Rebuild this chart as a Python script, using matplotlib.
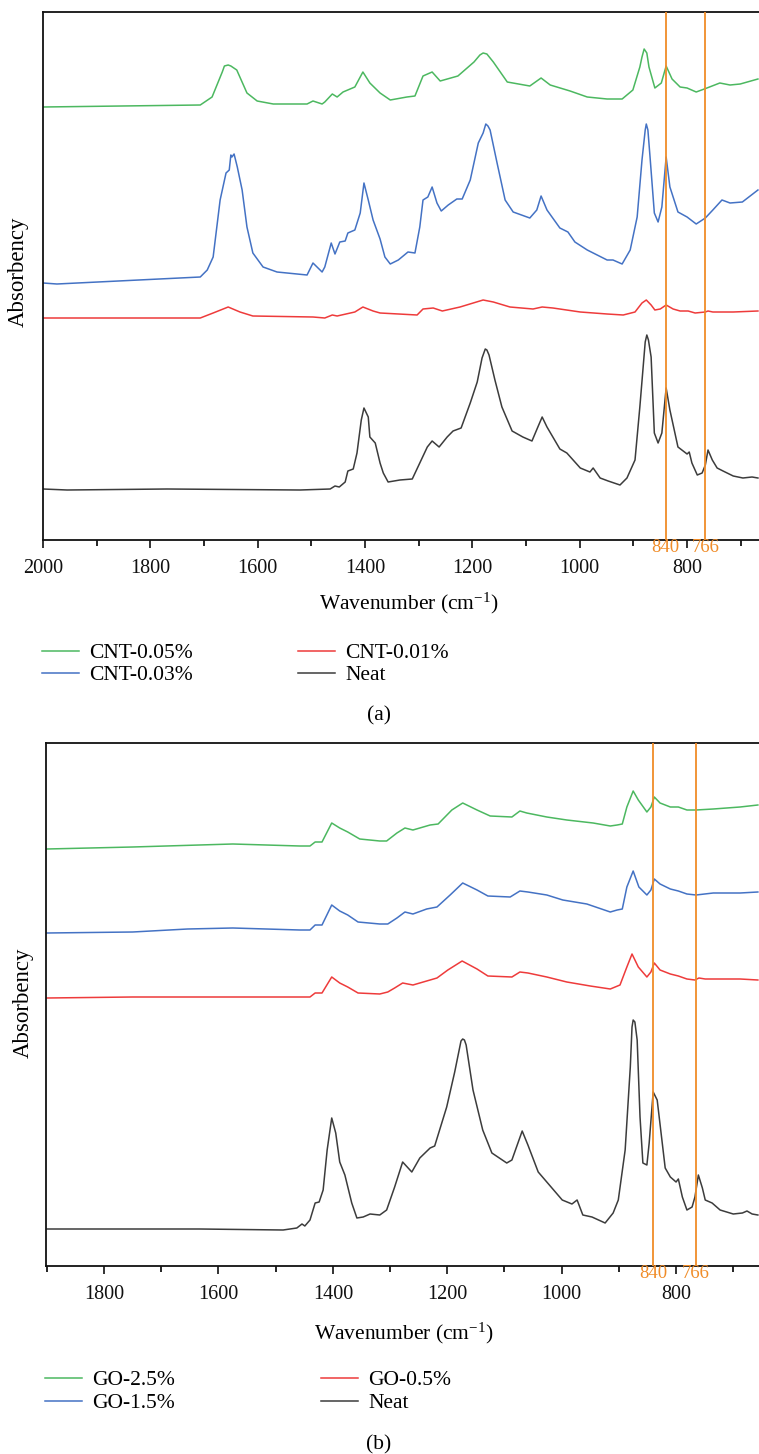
import matplotlib
matplotlib.use('Agg')
import matplotlib.pyplot as plt
from matplotlib.ticker import MultipleLocator
import matplotlib.transforms as mtransforms

plt.rcParams['font.family'] = ['Liberation Serif', 'DejaVu Serif']
plt.rcParams['mathtext.fontset'] = 'custom'
plt.rcParams['mathtext.rm'] = 'Liberation Serif'
plt.rcParams['mathtext.it'] = 'Liberation Serif:italic'
plt.rcParams['mathtext.bf'] = 'Liberation Serif:bold'

# ---------------- Panel (a): CNT samples (absorbance, stacked, a.u.) ----------------
cnt005_wn = [2000, 1707, 1685, 1666, 1662, 1655, 1650, 1639, 1620, 1601, 1571, 1508, 1497, 1480,
             1475, 1461, 1452, 1441, 1419, 1404, 1391, 1372, 1353, 1322, 1307, 1292, 1275, 1260,
             1227, 1197, 1186, 1180, 1173, 1161, 1135, 1093, 1072, 1055, 1018, 986, 949, 921, 901,
             888, 884, 880, 875, 871, 860, 848, 839, 828, 813, 800, 783, 763, 739, 720, 701, 668]
cnt005_abs = [4.33, 4.35, 4.43, 4.68, 4.74, 4.75, 4.74, 4.70, 4.47, 4.39, 4.36, 4.36, 4.39, 4.36,
              4.38, 4.46, 4.43, 4.48, 4.53, 4.68, 4.57, 4.47, 4.40, 4.43, 4.44, 4.64, 4.68, 4.59,
              4.64, 4.78, 4.85, 4.87, 4.86, 4.78, 4.58, 4.54, 4.62, 4.55, 4.49, 4.43, 4.41, 4.41,
              4.50, 4.73, 4.83, 4.91, 4.87, 4.73, 4.52, 4.57, 4.74, 4.61, 4.53, 4.52, 4.48, 4.52,
              4.57, 4.55, 4.56, 4.61]

cnt003_wn = [2000, 1974, 1707, 1694, 1683, 1670, 1659, 1653, 1650, 1648, 1644, 1638, 1629, 1620,
             1609, 1590, 1564, 1508, 1497, 1480, 1475, 1463, 1456, 1447, 1437, 1432, 1419, 1409,
             1402, 1394, 1385, 1372, 1363, 1353, 1338, 1320, 1307, 1298, 1292, 1283, 1275, 1266,
             1258, 1245, 1229, 1219, 1204, 1189, 1180, 1175, 1171, 1167, 1154, 1139, 1124, 1093,
             1080, 1072, 1061, 1037, 1022, 1009, 986, 949, 938, 921, 906, 893, 884, 878, 876, 873,
             869, 861, 854, 847, 839, 832, 817, 800, 783, 766, 752, 735, 720, 697, 668]
cnt003_abs = [2.57, 2.56, 2.63, 2.70, 2.83, 3.40, 3.67, 3.70, 3.85, 3.83, 3.86, 3.73, 3.50, 3.13,
              2.87, 2.73, 2.68, 2.65, 2.77, 2.68, 2.73, 2.97, 2.86, 2.98, 2.99, 3.07, 3.10, 3.27,
              3.57, 3.40, 3.20, 3.01, 2.83, 2.76, 2.80, 2.88, 2.87, 3.13, 3.40, 3.43, 3.53, 3.37,
              3.29, 3.35, 3.41, 3.41, 3.60, 3.97, 4.07, 4.16, 4.14, 4.10, 3.77, 3.40, 3.28, 3.22,
              3.30, 3.44, 3.30, 3.12, 3.08, 2.98, 2.90, 2.80, 2.80, 2.76, 2.90, 3.23, 3.80, 4.10,
              4.16, 4.10, 3.83, 3.27, 3.18, 3.33, 3.83, 3.53, 3.28, 3.23, 3.16, 3.22, 3.30, 3.40,
              3.37, 3.38, 3.50]

cnt001_wn = [2000, 1707, 1683, 1655, 1633, 1609, 1497, 1475, 1461, 1452, 1419, 1404, 1385, 1372,
             1303, 1292, 1273, 1256, 1223, 1180, 1161, 1130, 1087, 1070, 1050, 999, 949, 919, 897,
             884, 876, 867, 860, 850, 839, 826, 813, 798, 785, 766, 761, 752, 714, 668]
cnt001_abs = [2.22, 2.22, 2.27, 2.33, 2.28, 2.24, 2.23, 2.22, 2.25, 2.24, 2.28, 2.33, 2.29, 2.27,
              2.25, 2.31, 2.32, 2.29, 2.33, 2.40, 2.38, 2.33, 2.31, 2.33, 2.32, 2.28, 2.26, 2.25,
              2.28, 2.37, 2.40, 2.35, 2.30, 2.31, 2.35, 2.31, 2.29, 2.29, 2.27, 2.28, 2.29, 2.28,
              2.28, 2.29]

neat_a_wn = [2000, 1955, 1769, 1521, 1465, 1456, 1448, 1437, 1432, 1422, 1415, 1407, 1402, 1394,
             1391, 1381, 1372, 1366, 1357, 1335, 1312, 1298, 1284, 1275, 1262, 1247, 1236, 1221,
             1204, 1191, 1182, 1176, 1173, 1169, 1158, 1145, 1126, 1106, 1089, 1078, 1070, 1061,
             1037, 1024, 999, 981, 975, 962, 947, 925, 912, 897, 888, 878, 875, 872, 867, 861, 854,
             847, 839, 832, 817, 800, 796, 791, 781, 772, 766, 761, 753, 744, 733, 714, 696, 679,
             668]
neat_a_abs = [0.51, 0.50, 0.51, 0.50, 0.51, 0.54, 0.53, 0.58, 0.69, 0.71, 0.87, 1.20, 1.32, 1.23,
              1.03, 0.97, 0.77, 0.67, 0.58, 0.60, 0.61, 0.77, 0.93, 0.99, 0.93, 1.03, 1.09, 1.12,
              1.37, 1.58, 1.82, 1.91, 1.90, 1.85, 1.60, 1.33, 1.09, 1.03, 0.99, 1.13, 1.23, 1.13,
              0.91, 0.87, 0.72, 0.68, 0.72, 0.62, 0.59, 0.55, 0.62, 0.80, 1.33, 1.98, 2.05, 2.00,
              1.83, 1.07, 0.97, 1.07, 1.52, 1.30, 0.93, 0.86, 0.88, 0.77, 0.65, 0.67, 0.75, 0.90,
              0.80, 0.72, 0.69, 0.64, 0.62, 0.63, 0.62]

# ---------------- Panel (b): GO samples ----------------
go25_wn = [1900, 1750, 1575, 1458, 1440, 1431, 1419, 1402, 1388, 1374, 1353, 1318, 1306, 1288,
           1274, 1260, 1230, 1216, 1192, 1173, 1148, 1125, 1087, 1073, 1061, 1026, 991, 945, 915,
           903, 894, 886, 875, 866, 851, 844, 838, 828, 810, 796, 781, 765, 735, 688, 657]
go25_abs = [4.17, 4.19, 4.22, 4.20, 4.20, 4.24, 4.24, 4.43, 4.38, 4.34, 4.27, 4.25, 4.25, 4.33,
            4.38, 4.36, 4.41, 4.42, 4.56, 4.63, 4.56, 4.50, 4.49, 4.55, 4.53, 4.49, 4.46, 4.43,
            4.40, 4.41, 4.42, 4.59, 4.75, 4.66, 4.54, 4.59, 4.69, 4.63, 4.59, 4.59, 4.56, 4.56,
            4.57, 4.59, 4.61]

go15_wn = [1900, 1750, 1654, 1575, 1458, 1440, 1431, 1419, 1402, 1388, 1374, 1356, 1318, 1304,
           1288, 1274, 1260, 1236, 1218, 1195, 1173, 1148, 1129, 1090, 1073, 1059, 1026, 998, 956,
           915, 903, 894, 886, 875, 865, 851, 844, 838, 828, 810, 796, 781, 765, 735, 688, 657]
go15_abs = [3.33, 3.34, 3.37, 3.38, 3.36, 3.36, 3.41, 3.41, 3.61, 3.55, 3.51, 3.44, 3.42, 3.42,
            3.48, 3.54, 3.52, 3.57, 3.59, 3.71, 3.83, 3.76, 3.70, 3.69, 3.75, 3.74, 3.71, 3.66,
            3.62, 3.54, 3.56, 3.57, 3.79, 3.95, 3.79, 3.71, 3.76, 3.87, 3.82, 3.77, 3.75, 3.72,
            3.71, 3.73, 3.73, 3.74]

go05_wn = [1900, 1750, 1575, 1458, 1440, 1431, 1419, 1402, 1388, 1374, 1356, 1318, 1304, 1292,
           1278, 1260, 1230, 1218, 1199, 1174, 1148, 1129, 1087, 1073, 1059, 1026, 991, 950, 915,
           898, 886, 877, 866, 851, 844, 838, 828, 810, 796, 781, 767, 760, 749, 688, 657]
go05_abs = [2.68, 2.69, 2.69, 2.69, 2.69, 2.73, 2.73, 2.89, 2.83, 2.79, 2.73, 2.72, 2.74, 2.78,
            2.83, 2.81, 2.86, 2.88, 2.96, 3.05, 2.97, 2.90, 2.89, 2.94, 2.93, 2.89, 2.84, 2.80,
            2.77, 2.81, 2.99, 3.12, 2.99, 2.89, 2.94, 3.03, 2.96, 2.92, 2.90, 2.87, 2.86, 2.88,
            2.87, 2.87, 2.86]

neat_b_wn = [1900, 1778, 1732, 1633, 1487, 1463, 1454, 1449, 1440, 1431, 1424, 1417, 1410, 1402,
             1395, 1388, 1379, 1367, 1358, 1347, 1335, 1318, 1306, 1292, 1278, 1262, 1248, 1230,
             1222, 1201, 1187, 1176, 1173, 1170, 1167, 1155, 1138, 1122, 1096, 1087, 1069, 1059,
             1041, 1026, 999, 982, 973, 963, 947, 924, 910, 901, 889, 880, 877, 875, 872, 868, 863,
             858, 851, 847, 840, 833, 819, 810, 800, 796, 789, 781, 772, 767, 761, 754, 749, 737,
             723, 700, 684, 676, 667, 657]
neat_b_abs = [0.37, 0.37, 0.37, 0.37, 0.36, 0.38, 0.42, 0.40, 0.46, 0.63, 0.64, 0.76, 1.16, 1.48,
              1.33, 1.04, 0.91, 0.63, 0.48, 0.49, 0.52, 0.51, 0.56, 0.79, 1.04, 0.94, 1.08, 1.18,
              1.20, 1.59, 1.94, 2.25, 2.27, 2.26, 2.21, 1.76, 1.36, 1.13, 1.03, 1.06, 1.35, 1.21,
              0.94, 0.84, 0.66, 0.62, 0.66, 0.51, 0.49, 0.43, 0.53, 0.66, 1.16, 1.99, 2.39, 2.46,
              2.44, 2.26, 1.49, 1.03, 1.01, 1.23, 1.74, 1.66, 0.98, 0.89, 0.84, 0.87, 0.69, 0.56,
              0.59, 0.69, 0.91, 0.78, 0.66, 0.63, 0.56, 0.52, 0.53, 0.55, 0.52, 0.51]

marker_wn = [840, 766]
marker_labels = ['840', '766']

labels_a = ['CNT-0.05%', 'CNT-0.03%', 'CNT-0.01%', 'Neat']
labels_b = ['GO-2.5%', 'GO-1.5%', 'GO-0.5%', 'Neat']

GREEN = '#4cb860'
BLUE = '#4472c4'
RED = '#ee3b3b'
BLACK = '#3c3c3c'
ORANGE = '#f08c28'
colors = [GREEN, BLUE, RED, BLACK]

W, H = 759, 1454
fig = plt.figure(figsize=(W / 100, H / 100), dpi=100)


def px_axes(left, top, right, bottom):
    return fig.add_axes([left / W, 1 - bottom / H, (right - left) / W, (bottom - top) / H])


def style_axes(ax, xlim, ylim):
    ax.set_xlim(*xlim)
    ax.set_ylim(*ylim)
    ax.xaxis.set_major_locator(MultipleLocator(200))
    ax.xaxis.set_minor_locator(MultipleLocator(100))
    ax.set_yticks([])
    ax.spines['right'].set_visible(False)
    for s in ['left', 'top', 'bottom']:
        ax.spines[s].set_linewidth(1.3)
        ax.spines[s].set_color('#111111')
    ax.tick_params(axis='x', which='major', direction='out', length=6, width=1.2,
                   labelsize=14.5, pad=8, colors='#111111')
    ax.tick_params(axis='x', which='minor', direction='out', length=4, width=1.2)


def markers(ax, height_px):
    trans = mtransforms.blended_transform_factory(ax.transData, ax.transAxes)
    for wn, lab in zip(marker_wn, marker_labels):
        ax.axvline(wn, color=ORANGE, lw=1.3, zorder=3)
        ax.text(wn, 1.5 / height_px, lab, transform=trans, color=ORANGE, fontsize=13.5,
                ha='center', va='top', clip_on=False)


# ---- panel (a)
axa = px_axes(43, 12, 759, 540)
style_axes(axa, (2000, 666), (0, 5.28))
series_a = [(cnt005_wn, cnt005_abs), (cnt003_wn, cnt003_abs), (cnt001_wn, cnt001_abs),
            (neat_a_wn, neat_a_abs)]
handles_a = []
for (xw, yv), c, lab in zip(series_a, colors, labels_a):
    h, = axa.plot(xw, yv, color=c, lw=1.1, label=lab, solid_joinstyle='round')
    handles_a.append(h)
markers(axa, 528)

# ---- panel (b)
axb = px_axes(46.3, 743, 759, 1266)
style_axes(axb, (1901, 655), (0, 5.23))
series_b = [(go25_wn, go25_abs), (go15_wn, go15_abs), (go05_wn, go05_abs),
            (neat_b_wn, neat_b_abs)]
handles_b = []
for (xw, yv), c, lab in zip(series_b, colors, labels_b):
    h, = axb.plot(xw, yv, color=c, lw=1.1, label=lab, solid_joinstyle='round')
    handles_b.append(h)
markers(axb, 523)

# ---- labels
FS = 15.5
fig.text(409 / W, 1 - 603 / H, r'Wavenumber (cm$^{-1}$)', ha='center', va='center', fontsize=FS)
fig.text(404 / W, 1 - 1333 / H, r'Wavenumber (cm$^{-1}$)', ha='center', va='center', fontsize=FS)
fig.text(18 / W, 1 - 272 / H, 'Absorbency', rotation=90, ha='center', va='center', fontsize=16.5)
fig.text(23 / W, 1 - 1003 / H, 'Absorbency', rotation=90, ha='center', va='center', fontsize=16.5)
fig.text(379 / W, 1 - 716 / H, '(a)', ha='center', va='center', fontsize=FS)
fig.text(379 / W, 1 - 1445 / H, '(b)', ha='center', va='center', fontsize=FS)

fig.legend(handles=handles_a, labels=labels_a, ncol=2, loc='upper left',
           bbox_to_anchor=(42 / W, 1 - 643 / H), frameon=False, fontsize=FS,
           handlelength=1.7, handletextpad=0.48, columnspacing=4.9, labelspacing=0.1,
           borderpad=0, borderaxespad=0)
fig.legend(handles=handles_b, labels=labels_b, ncol=2, loc='upper left',
           bbox_to_anchor=(45 / W, 1 - 1370 / H), frameon=False, fontsize=FS,
           handlelength=1.7, handletextpad=0.48, columnspacing=6.8, labelspacing=0.15,
           borderpad=0, borderaxespad=0)

fig.savefig('out.png', dpi=100)
